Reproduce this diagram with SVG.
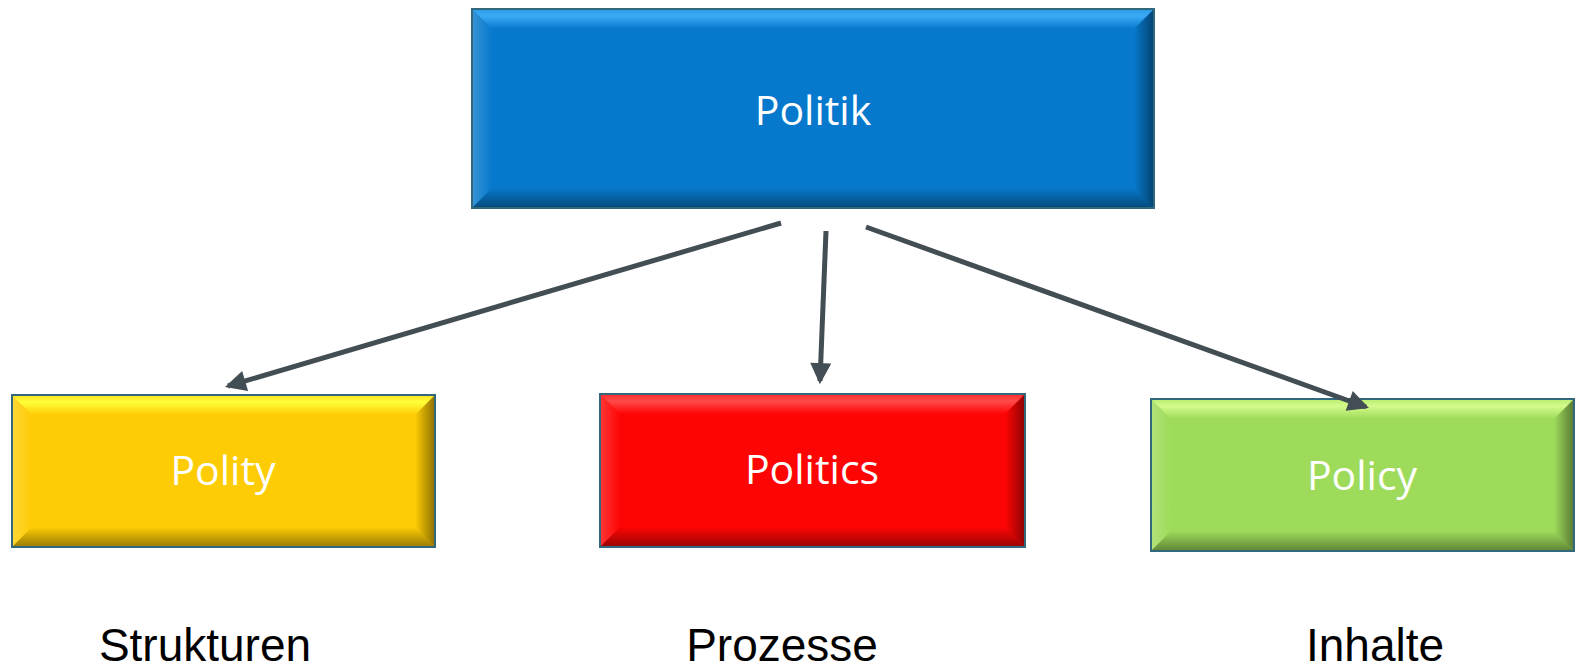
<svg xmlns="http://www.w3.org/2000/svg" width="1576" height="670" viewBox="0 0 1576 670">
<defs>
<style>
.lbl{font-family:"Open Sans","Noto Sans","Liberation Sans",sans-serif;fill:#fff;text-anchor:middle;font-size:41px}
.sub{font-family:"Liberation Sans",Arial,sans-serif;fill:#000;font-size:46px;text-anchor:middle}
.edge{stroke:#434d54;stroke-width:5;fill:none;marker-end:url(#ah)}
.l{fill:url(#gL)}
.r{fill:url(#gR)}
.b{fill:url(#gB)}
.ol{fill:none;stroke:#31687c;stroke-width:2}
</style>
<marker id="ah" viewBox="0 0 10 10" refX="8.5" refY="5" markerWidth="4.8" markerHeight="4.2" orient="auto" markerUnits="strokeWidth">
<path d="M0,0 L10,5 L0,10 z" fill="#434d54"/>
</marker>
<linearGradient id="gL" x1="0" y1="0" x2="1" y2="0">
<stop offset="0" stop-color="#fff" stop-opacity=".2"/><stop offset="1" stop-color="#fff" stop-opacity="0"/>
</linearGradient>
<linearGradient id="gR" x1="0" y1="0" x2="1" y2="0">
<stop offset="0" stop-color="#000" stop-opacity="0"/><stop offset="1" stop-color="#000" stop-opacity=".45"/>
</linearGradient>
<linearGradient id="gB" x1="0" y1="0" x2="0" y2="1">
<stop offset="0" stop-color="#000" stop-opacity="0"/><stop offset="1" stop-color="#000" stop-opacity=".4"/>
</linearGradient>
<linearGradient id="tBlue" x1="0" y1="0" x2="0" y2="1">
<stop offset="0" stop-color="#2a9be8"/><stop offset=".35" stop-color="#3aaaf5"/><stop offset="1" stop-color="#0779cc"/>
</linearGradient>
<linearGradient id="tYel" x1="0" y1="0" x2="0" y2="1">
<stop offset="0" stop-color="#ffe020"/><stop offset=".35" stop-color="#ffff3a"/><stop offset="1" stop-color="#fecc05"/>
</linearGradient>
<linearGradient id="tRed" x1="0" y1="0" x2="0" y2="1">
<stop offset="0" stop-color="#ff2a2a"/><stop offset=".35" stop-color="#ff4a4a"/><stop offset="1" stop-color="#fe0505"/>
</linearGradient>
<linearGradient id="tGrn" x1="0" y1="0" x2="0" y2="1">
<stop offset="0" stop-color="#b8ec70"/><stop offset=".35" stop-color="#d4fb8c"/><stop offset="1" stop-color="#9edb5a"/>
</linearGradient>
</defs>

<g id="politik">
<rect x="472" y="9" width="682" height="199" fill="#0779cc"/>
<polygon fill="url(#tBlue)" points="472,9 1154,9 1134,29 492,29"/>
<polygon class="l" points="472,9 492,29 492,188 472,208"/>
<polygon class="r" points="1154,9 1154,208 1134,188 1134,29"/>
<polygon class="b" points="472,208 1154,208 1134,188 492,188"/>
<rect class="ol" x="472" y="9" width="682" height="199"/>
<text class="lbl" x="813" y="125">Politik</text>
</g>

<g id="polity">
<rect x="12" y="395" width="423" height="152" fill="#fecc05"/>
<polygon fill="url(#tYel)" points="12,395 435,395 415,415 32,415"/>
<polygon class="l" points="12,395 32,415 32,527 12,547"/>
<polygon class="r" points="435,395 435,547 415,527 415,415"/>
<polygon class="b" points="12,547 435,547 415,527 32,527"/>
<rect class="ol" x="12" y="395" width="423" height="152"/>
<text class="lbl" x="223" y="485">Polity</text>
</g>

<g id="politics">
<rect x="600" y="394" width="425" height="153" fill="#fe0505"/>
<polygon fill="url(#tRed)" points="600,394 1025,394 1005,414 620,414"/>
<polygon class="l" points="600,394 620,414 620,527 600,547"/>
<polygon class="r" points="1025,394 1025,547 1005,527 1005,414"/>
<polygon class="b" points="600,547 1025,547 1005,527 620,527"/>
<rect class="ol" x="600" y="394" width="425" height="153"/>
<text class="lbl" x="812" y="484">Politics</text>
</g>

<g id="policy">
<rect x="1151" y="399" width="423" height="152" fill="#9edb5a"/>
<polygon fill="url(#tGrn)" points="1151,399 1574,399 1554,419 1171,419"/>
<polygon class="l" points="1151,399 1171,419 1171,531 1151,551"/>
<polygon class="r" points="1574,399 1574,551 1554,531 1554,419"/>
<polygon class="b" points="1151,551 1574,551 1554,531 1171,531"/>
<rect class="ol" x="1151" y="399" width="423" height="152"/>
<text class="lbl" x="1362" y="490">Policy</text>
</g>

<g id="connectors">
<line class="edge" x1="781" y1="223" x2="228" y2="386"/>
<line class="edge" x1="826" y1="231" x2="820" y2="381"/>
<line class="edge" x1="866" y1="227" x2="1366" y2="407"/>
</g>

<text class="sub" x="205" y="661">Strukturen</text>
<text class="sub" x="782" y="661">Prozesse</text>
<text class="sub" x="1375" y="661">Inhalte</text>
</svg>
